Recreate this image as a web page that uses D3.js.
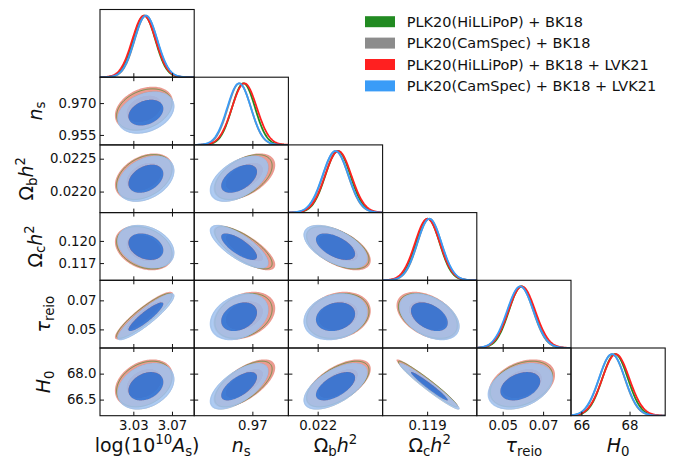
<!DOCTYPE html>
<html>
<head>
<meta charset="utf-8">
<script src="https://cdn.jsdelivr.net/npm/d3@7"></script>
<style>
body { margin: 0; background: #fff; }
svg { display: block; font-family: "DejaVu Sans", sans-serif; }
</style>
</head>
<body>
<svg id="chart" width="678" height="462"></svg>
<script>
// parameter order: log(1e10 As), ns, ombh2, omch2, tau_reio, H0
var paramNames  = ['logA', 'ns', 'omegabh2', 'omegach2', 'tau', 'H0'];
var paramRanges = [[2.9955, 3.0930], [0.9503, 0.9822], [0.02168, 0.02271],
                   [0.11467, 0.12383], [0.0372, 0.0838], [65.57, 69.48]];

var xTickValues = [[3.03, 3.07], [0.97], [0.022], [0.119], [0.05, 0.07], [66, 68]];
var xTickLabels = [['3.03', '3.07'], ['0.97'], ['0.022'], ['0.119'], ['0.05', '0.07'], ['66', '68']];
var yTickValues = [[], [0.955, 0.970], [0.0220, 0.0225], [0.117, 0.120], [0.05, 0.07], [66.5, 68.0]];
var yTickLabels = [[], ['0.955', '0.970'], ['0.0220', '0.0225'], ['0.117', '0.120'], ['0.05', '0.07'], ['66.5', '68.0']];

var seriesNames  = ['PLK20(HiLLiPoP) + BK18', 'PLK20(CamSpec) + BK18',
                    'PLK20(HiLLiPoP) + BK18 + LVK21', 'PLK20(CamSpec) + BK18 + LVK21'];
var seriesColors = ['#228b22', '#8c8c8c', '#ff2020', '#3a9cf7'];

var meanHil     = [3.0413, 0.9670, 0.022221, 0.11907, 0.0593, 67.40];
var sigmaHil    = [0.0115, 0.0039, 0.000137, 0.00115, 0.0062, 0.53];
var meanCam     = [3.0430, 0.9656, 0.022196, 0.11922, 0.0588, 67.27];
var sigmaCam    = [0.0116, 0.0039, 0.000138, 0.00116, 0.0063, 0.53];
var meanHilLvk  = [3.0410, 0.9673, 0.022225, 0.11903, 0.0595, 67.43];
var sigmaHilLvk = [0.0121, 0.0042, 0.000143, 0.00121, 0.0066, 0.56];
var meanCamLvk  = [3.0430, 0.9655, 0.022195, 0.11922, 0.0587, 67.27];
var sigmaCamLvk = [0.0119, 0.0040, 0.000141, 0.00118, 0.0065, 0.54];

var corrMatrix = [
    [ 1.00,  0.30,  0.35, -0.28,  0.90,  0.30],
    [ 0.30,  1.00,  0.50, -0.75,  0.30,  0.65],
    [ 0.35,  0.50,  1.00, -0.55,  0.20,  0.60],
    [-0.28, -0.75, -0.55,  1.00, -0.42, -0.97],
    [ 0.90,  0.30,  0.20, -0.42,  1.00,  0.35],
    [ 0.30,  0.65,  0.60, -0.97,  0.35,  1.00]
];

// 2D chi^2 levels of the 68% and 95% contours
var contourLevels = [2.30, 6.18];

var seriesMeans  = [meanHil, meanCam, meanHilLvk, meanCamLvk];
var seriesSigmas = [sigmaHil, sigmaCam, sigmaHilLvk, sigmaCamLvk];

var axisLabelParts = [
    [{t: 'log(10'}, {t: '10', sup: true}, {t: 'A', it: true}, {t: 's', sub: true}, {t: ')'}],
    [{t: 'n', it: true}, {t: 's', sub: true}],
    [{t: '\u03A9'}, {t: 'b', sub: true}, {t: 'h', it: true}, {t: '2', sup: true}],
    [{t: '\u03A9'}, {t: 'c', sub: true}, {t: 'h', it: true}, {t: '2', sup: true}],
    [{t: '\u03C4', it: true}, {t: 'reio', sub: true}],
    [{t: 'H', it: true}, {t: '0', sub: true}]
];

var x0 = 100, y0 = 9.5, cellW = 94.2, cellH = 67.7;
var tickLen = 4, tickFont = 13.3, labelFont = 19;
var nP = paramNames.length;

var svg = d3.select('#chart');
var defs = svg.append('defs');
defs.append('clipPath').attr('id', 'cellclip')
    .append('rect').attr('width', cellW).attr('height', cellH);

var xScales = paramRanges.map(function(r) { return d3.scaleLinear().domain(r).range([0, cellW]); });
var yScales = paramRanges.map(function(r) { return d3.scaleLinear().domain(r).range([cellH, 0]); });
var densScale = d3.scaleLinear().domain([0, 1.1]).range([cellH, 0]);

function mathText(sel, parts, size) {
    var shift = 0;
    parts.forEach(function(p) {
        var target = p.sub ? 0.2 * size : (p.sup ? -0.42 * size : 0);
        sel.append('tspan')
            .attr('dy', target - shift)
            .style('font-size', ((p.sub || p.sup) ? 0.7 * size : size) + 'px')
            .style('font-style', p.it ? 'italic' : 'normal')
            .text(p.t);
        shift = target;
    });
}

function ellipse(mx, my, sx, sy, rho, k) {
    var l21 = rho * sy, l22 = sy * Math.sqrt(1 - rho * rho);
    return d3.range(0, 160).map(function(n) {
        var t = 2 * Math.PI * n / 160;
        return [mx + k * sx * Math.cos(t), my + k * (l21 * Math.cos(t) + l22 * Math.sin(t))];
    });
}

function drawDensity(g, j) {
    var xs = xScales[j];
    var line = d3.line().x(function(d) { return xs(d[0]); }).y(function(d) { return densScale(d[1]); });
    [0, 1, 2, 3].forEach(function(k) {
        var m = seriesMeans[k][j], s = seriesSigmas[k][j];
        var pts = d3.range(0, 241).map(function(n) {
            var x = paramRanges[j][0] + (paramRanges[j][1] - paramRanges[j][0]) * n / 240;
            return [x, Math.exp(-0.5 * Math.pow((x - m) / s, 2))];
        });
        g.append('path').attr('d', line(pts))
            .attr('fill', 'none').attr('stroke', seriesColors[k]).attr('stroke-width', 1.8);
    });
}

function drawContours(g, i, j) {
    var xs = xScales[j], ys = yScales[i];
    var line = d3.line().x(function(d) { return xs(d[0]); }).y(function(d) { return ys(d[1]); })
        .curve(d3.curveLinearClosed);
    var rho = corrMatrix[i][j];
    function rings(k) {
        return contourLevels.map(function(c) {
            return ellipse(seriesMeans[k][j], seriesMeans[k][i], seriesSigmas[k][j], seriesSigmas[k][i], rho, Math.sqrt(c));
        });
    }
    function filled(k, outerCol, innerCol, outerOp, innerOp) {
        var r = rings(k);
        g.append('path').attr('d', line(r[1]) + line(r[0]))
            .attr('fill-rule', 'evenodd').attr('fill', outerCol).attr('fill-opacity', outerOp);
        g.append('path').attr('d', line(r[0])).attr('fill', innerCol).attr('fill-opacity', innerOp);
    }
    function outlined(k) {
        g.append('path').attr('d', line(rings(k)[1])).attr('fill', 'none')
            .attr('stroke', seriesColors[k]).attr('stroke-width', 0.7).attr('stroke-opacity', 0.8);
    }
    filled(2, '#eb9b90', '#d9675b', 1, 1);
    outlined(0);
    outlined(1);
    filled(3, '#a0c2f0', '#2d78dc', 0.86, 0.9);
}

for (var i = 0; i < nP; i++) {
    for (var j = 0; j <= i; j++) {
        var g = svg.append('g').attr('transform', 'translate(' + (x0 + j * cellW) + ',' + (y0 + i * cellH) + ')');
        var plot = g.append('g').attr('clip-path', 'url(#cellclip)');
        if (i === j) drawDensity(plot, j);
        else drawContours(plot, i, j);

        // inward ticks
        var lastRow = (i === nP - 1);
        var xlab = xTickLabels[j];
        var bottomAxis = d3.axisBottom(xScales[j]).tickValues(xTickValues[j])
            .tickSizeInner(-tickLen).tickSizeOuter(0).tickPadding(5)
            .tickFormat(function(d, n) { return lastRow ? xlab[n] : ''; });
        g.append('g').attr('class', 'xaxis').attr('transform', 'translate(0,' + cellH + ')').call(bottomAxis);
        if (i !== j) {
            g.append('g').call(d3.axisTop(xScales[j]).tickValues(xTickValues[j])
                .tickSizeInner(-tickLen).tickSizeOuter(0).tickFormat(''));
            var ylab = yTickLabels[i];
            g.append('g').attr('class', 'yaxis').call(d3.axisLeft(yScales[i]).tickValues(yTickValues[i])
                .tickSizeInner(-tickLen).tickSizeOuter(0).tickPadding(3.5)
                .tickFormat(function(d, n) { return j === 0 ? ylab[n] : ''; }));
            g.append('g').attr('transform', 'translate(' + cellW + ',0)')
                .call(d3.axisRight(yScales[i]).tickValues(yTickValues[i])
                .tickSizeInner(-tickLen).tickSizeOuter(0).tickFormat(''));
        }
        g.append('rect').attr('width', cellW).attr('height', cellH)
            .attr('fill', 'none').attr('stroke', '#111').attr('stroke-width', 1.1);
    }
}

svg.selectAll('.domain').remove();
svg.selectAll('.tick line').attr('stroke', '#111').attr('stroke-width', 1);
svg.selectAll('.tick text').attr('fill', '#111').style('font-size', tickFont + 'px')
    .style('font-family', '"DejaVu Sans", sans-serif');

// x labels under the bottom row
for (var j = 0; j < nP; j++) {
    var t = svg.append('text').attr('x', x0 + (j + 0.5) * cellW).attr('y', 452)
        .attr('text-anchor', 'middle').attr('fill', '#111').style('font-size', labelFont + 'px');
    mathText(t, axisLabelParts[j], labelFont);
}

// y labels left of the first column, placed just outside their tick labels
for (var i = 1; i < nP; i++) {
    var cy = y0 + (i + 0.5) * cellH;
    var tickLeft = 1e9;
    svg.selectAll('.yaxis text').each(function() {
        var r = this.getBoundingClientRect();
        if (this.textContent && Math.abs((r.top + r.bottom) / 2 - cy) < cellH / 2) tickLeft = Math.min(tickLeft, r.left);
    });
    var lab = svg.append('text').attr('text-anchor', 'middle').attr('fill', '#111')
        .style('font-size', labelFont + 'px')
        .attr('transform', 'translate(40,' + cy + ') rotate(-90)');
    mathText(lab, axisLabelParts[i], labelFont);
    var box = lab.node().getBoundingClientRect();
    var dx = (tickLeft - 10) - box.right;
    lab.attr('transform', 'translate(' + (40 + dx) + ',' + cy + ') rotate(-90)');
}

// legend
var legend = svg.append('g').attr('transform', 'translate(365,21.7)');
seriesNames.forEach(function(name, k) {
    var row = legend.append('g').attr('transform', 'translate(0,' + (k * 21.4) + ')');
    row.append('rect').attr('x', 0).attr('y', -5.5).attr('width', 30).attr('height', 11)
        .attr('fill', seriesColors[k]);
    row.append('text').attr('x', 41.7).attr('y', 5.2).attr('fill', '#111')
        .style('font-size', '14.5px').text(name);
});
</script>
</body>
</html>
